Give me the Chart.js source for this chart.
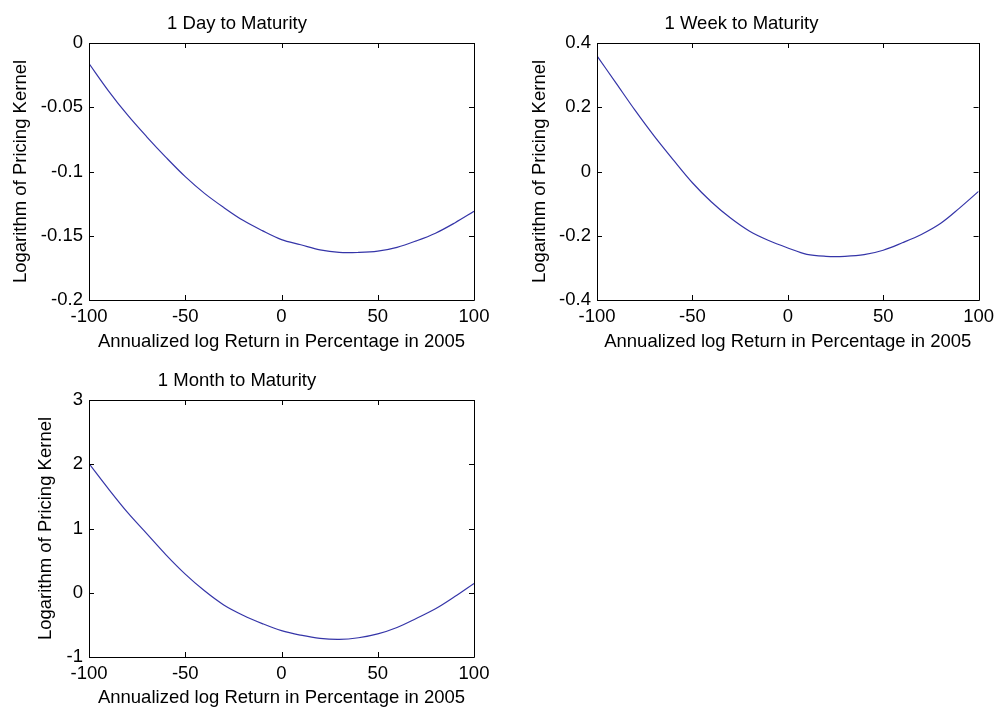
<!DOCTYPE html>
<html>
<head>
<meta charset="utf-8">
<title>Pricing Kernel</title>
<script src="https://cdn.jsdelivr.net/npm/chart.js@4/dist/chart.umd.min.js"></script>
<style>
    html, body { margin: 0; padding: 0; background: #fff; overflow: hidden; }
    body { width: 1000px; height: 709px; position: relative; }
    .panel { position: absolute; }
</style>
</head>
<body>
<div class="panel" id="p1" style="left:0px;top:0px;width:500px;height:360px;"><canvas id="dayChart"></canvas></div>
<div class="panel" id="p2" style="left:500px;top:0px;width:500px;height:360px;"><canvas id="weekChart"></canvas></div>
<div class="panel" id="p3" style="left:0px;top:357px;width:500px;height:352px;"><canvas id="monthChart"></canvas></div>
<script>
// annualized log return (%)
const returnPct = [-100, -90, -80, -70, -60, -50, -40, -30, -20, -10, 0, 10, 20, 30, 40, 50, 60, 70, 80, 90, 100];

// log pricing kernel
const dayKernel = [-0.016, -0.037, -0.056, -0.073, -0.089, -0.104, -0.117, -0.128, -0.138, -0.146, -0.153, -0.157, -0.161, -0.163, -0.163, -0.162, -0.159, -0.154, -0.148, -0.140, -0.131];
const weekKernel = [0.360, 0.275, 0.190, 0.110, 0.036, -0.035, -0.095, -0.145, -0.186, -0.215, -0.238, -0.258, -0.264, -0.264, -0.259, -0.245, -0.222, -0.196, -0.162, -0.114, -0.062];
const monthKernel = [2.01, 1.62, 1.25, 0.92, 0.59, 0.29, 0.03, -0.19, -0.35, -0.48, -0.59, -0.66, -0.71, -0.726, -0.70, -0.64, -0.54, -0.40, -0.25, -0.06, 0.145];

const xTicks = [-100, -50, 0, 50, 100];
const dayTicks = [-0.2, -0.15, -0.1, -0.05, 0];
const weekTicks = [-0.4, -0.2, 0, 0.2, 0.4];
const monthTicks = [-1, 0, 1, 2, 3];

const xTitle = "Annualized log Return in Percentage in 2005";
const yTitle = "Logarithm of Pricing Kernel";

const FONT = "'Liberation Sans', Arial, sans-serif";
const FONT_SIZE = 18.5;
const LINE_COLOR = "#3535a8";

// matlab style box with inward ticks on all four sides
const boxPlugin = {
    id: "matlabBox",
    afterDraw(chart) {
        const ctx = chart.ctx;
        const area = chart.chartArea;
        const xs = chart.scales.x;
        const ys = chart.scales.y;
        const len = 5;
        ctx.save();
        ctx.strokeStyle = "#000";
        ctx.lineWidth = 1;
        ctx.beginPath();
        ctx.rect(Math.round(area.left) + 0.5, Math.round(area.top) + 0.5,
            Math.round(area.right - area.left), Math.round(area.bottom - area.top));
        xs.ticks.forEach((t) => {
            const px = Math.round(xs.getPixelForValue(t.value)) + 0.5;
            ctx.moveTo(px, area.bottom);
            ctx.lineTo(px, area.bottom - len);
            ctx.moveTo(px, area.top);
            ctx.lineTo(px, area.top + len);
        });
        ys.ticks.forEach((t) => {
            const py = Math.round(ys.getPixelForValue(t.value)) + 0.5;
            ctx.moveTo(area.left, py);
            ctx.lineTo(area.left + len, py);
            ctx.moveTo(area.right, py);
            ctx.lineTo(area.right - len, py);
        });
        ctx.stroke();
        ctx.restore();
    },
};

function makeChart(canvasId, title, values, yTickValues, opts) {
    const ctx = document.getElementById(canvasId).getContext("2d");
    const points = returnPct.map((r, i) => ({ x: r, y: values[i] }));

    return new Chart(ctx, {
        type: "line",
        data: {
            datasets: [{
                data: points,
                borderColor: LINE_COLOR,
                borderWidth: 1.2,
                pointRadius: 0,
                tension: 0.35,
                fill: false,
            }],
        },
        options: {
            responsive: true,
            maintainAspectRatio: false,
            animation: false,
            layout: { padding: { left: 0, right: opts.right, top: 0, bottom: 0 } },
            plugins: {
                legend: { display: false },
                tooltip: { enabled: false },
                title: {
                    display: true,
                    text: title,
                    color: "#000",
                    font: { family: FONT, size: FONT_SIZE, weight: "normal" },
                    padding: { top: 12.4, bottom: 8.4 },
                },
            },
            scales: {
                x: {
                    type: "linear",
                    min: -100,
                    max: 100,
                    grid: { display: false, drawTicks: false },
                    border: { display: false },
                    afterBuildTicks(scale) {
                        scale.ticks = xTicks.map((v) => ({ value: v }));
                    },
                    afterFit(scale) {
                        scale.height = opts.xHeight;
                    },
                    ticks: {
                        color: "#000",
                        padding: 6,
                        maxRotation: 0,
                        font: { family: FONT, size: FONT_SIZE },
                        callback: (v) => String(v),
                    },
                    title: {
                        display: true,
                        text: xTitle,
                        color: "#000",
                        font: { family: FONT, size: FONT_SIZE },
                        padding: { top: 0, bottom: opts.xTitlePad },
                    },
                },
                y: {
                    type: "linear",
                    min: yTickValues[0],
                    max: yTickValues[yTickValues.length - 1],
                    grid: { display: false, drawTicks: false },
                    border: { display: false },
                    afterBuildTicks(scale) {
                        scale.ticks = yTickValues.map((v) => ({ value: v }));
                    },
                    afterFit(scale) {
                        scale.width = opts.yWidth;
                    },
                    ticks: {
                        color: "#000",
                        padding: 6,
                        font: { family: FONT, size: FONT_SIZE },
                        callback: (v) => String(Math.round(v * 1000) / 1000),
                    },
                    title: {
                        display: true,
                        text: yTitle,
                        color: "#000",
                        font: { family: FONT, size: FONT_SIZE },
                        padding: { top: opts.yTitlePad, bottom: 0 },
                    },
                },
            },
        },
        plugins: [boxPlugin],
    });
}

makeChart("dayChart", "1 Day to Maturity", dayKernel, dayTicks,
    { right: 26, yWidth: 89, xHeight: 60, xTitlePad: 6.9, yTitlePad: 9.4 });
makeChart("weekChart", "1 Week to Maturity", weekKernel, weekTicks,
    { right: 17, yWidth: 97, xHeight: 60, xTitlePad: 6.9, yTitlePad: 28.9 });
makeChart("monthChart", "1 Month to Maturity", monthKernel, monthTicks,
    { right: 26, yWidth: 89, xHeight: 52, xTitlePad: 0, yTitlePad: 35 });
</script>
</body>
</html>
